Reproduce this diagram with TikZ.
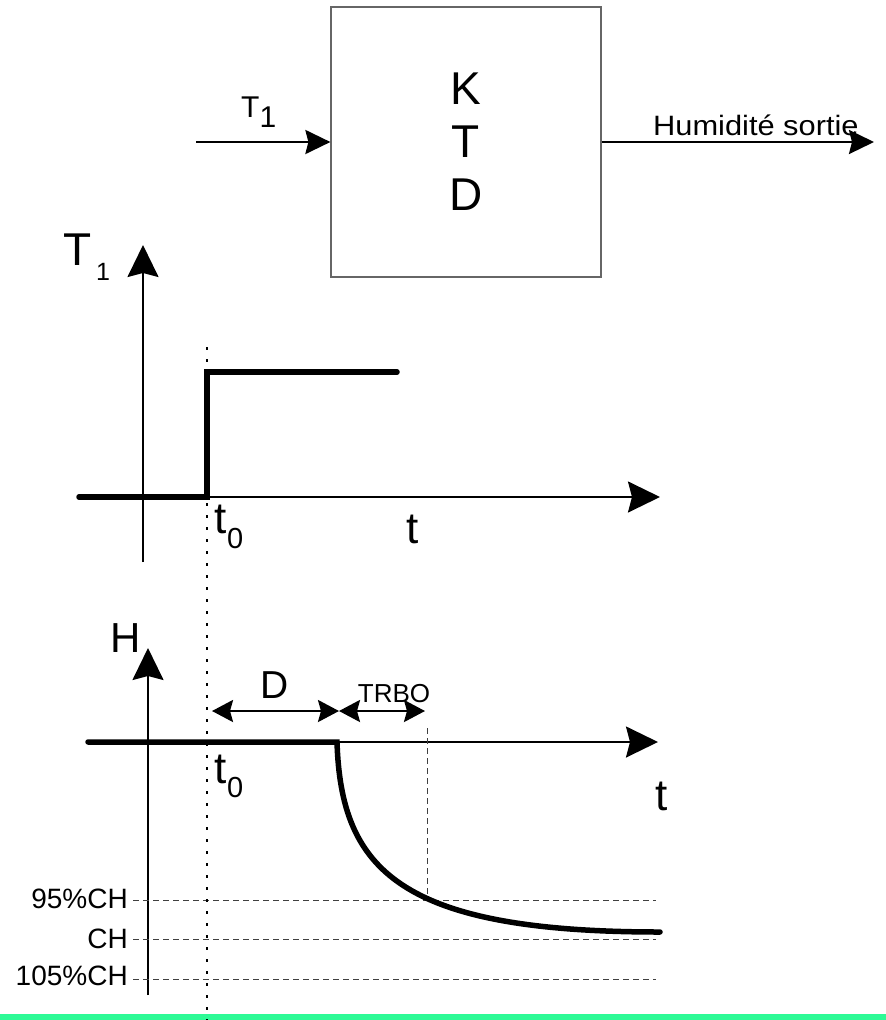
\documentclass[tikz,border=0pt]{standalone}
\usepackage{fontspec}
\setmainfont{Liberation Sans}
\newfontfamily\humfont[FakeStretch=1.1]{Liberation Sans}
\usetikzlibrary{arrows.meta}
\definecolor{mint}{RGB}{45,250,150}
\tikzset{
  axarrow/.style={line width=2pt,-{Stealth[length=32pt,width=31pt,inset=4pt]}},
  blkarrow/.style={line width=2.5pt,-{Stealth[length=25pt,width=24pt,inset=3pt]}},
  dblarrow/.style={line width=2.5pt,{Stealth[length=21pt,width=22pt,inset=3pt]}-{Stealth[length=21pt,width=22pt,inset=3pt]}},
  signal/.style={line width=5.5pt,line cap=round,line join=miter},
  guide/.style={line width=1pt,black!75,dash pattern=on 6pt off 4pt},
  tzero/.style={line width=2pt,dash pattern=on 3pt off 9pt},
  lbl/.style={inner sep=0pt}
}
\begin{document}
\begin{tikzpicture}[x=1pt,y=-1pt]
\useasboundingbox (0,0) rectangle (886,1020);
% bottom line
\draw[mint,line width=6pt] (0,1017) -- (886,1017);
% block
\node[draw=black!60,line width=1.2pt,minimum width=270pt,minimum height=270pt,align=center,inner sep=0pt,font=\fontsize{46pt}{53pt}\selectfont] (box) at (466,142) {K\\T\\D};
\coordinate (in) at (196,142);
\coordinate (out) at (874,142);
\draw[blkarrow] (in) -- (box.west);
\draw[blkarrow] (box.east) -- (out);
\node[lbl,anchor=base west,font=\fontsize{30pt}{30pt}\selectfont] (inlbl) at (241,117) {T\raisebox{-10pt}{1}};
\node[lbl,anchor=base west,font=\humfont\fontsize{28pt}{28pt}\selectfont] (outlbl) at (653,135) {Humidité sortie};
% T1 graph
\coordinate (ay0) at (143,562);
\coordinate (ay1) at (143,245);
\coordinate (ax0) at (80,497);
\coordinate (ax1) at (660,497);
\draw[axarrow] (ay0) -- (ay1);
\draw[axarrow] (ax0) -- (ax1);
\node[lbl,anchor=base west,font=\fontsize{46pt}{46pt}\selectfont] (T1a) at (63,265) {T};
\node[lbl,anchor=base west,font=\fontsize{25pt}{25pt}\selectfont] (T1b) at (96,280) {1};
\draw[signal] (79,497) -- (207,497) -- (207,372) -- (397,372);
\node[lbl,anchor=base west,font=\fontsize{44pt}{44pt}\selectfont] (t0a) at (214,533) {t};
\node[lbl,anchor=base west,font=\fontsize{29pt}{29pt}\selectfont] (t0b) at (227,548) {0};
\node[lbl,anchor=base west,font=\fontsize{44pt}{44pt}\selectfont] (ta) at (406,543) {t};
% H graph
\coordinate (hy0) at (148,995);
\coordinate (hy1) at (148,648);
\coordinate (hx0) at (88,742);
\coordinate (hx1) at (658,742);
\draw[axarrow] (hy0) -- (hy1);
\draw[axarrow] (hx0) -- (hx1);
\node[lbl,anchor=base west,font=\fontsize{42pt}{42pt}\selectfont] (Hl) at (110,652) {H};
\draw[guide] (427,728) -- (427,900);
\draw[guide] (133,900) -- (656,900);
\draw[guide] (133,939) -- (656,939);
\draw[guide] (133,979) -- (656,979);
\node[lbl,anchor=east,font=\fontsize{28pt}{28pt}\selectfont] (l95) at (128,899) {95\%CH};
\node[lbl,anchor=east,font=\fontsize{28pt}{28pt}\selectfont] (lch) at (128,939) {CH};
\node[lbl,anchor=east,font=\fontsize{28pt}{28pt}\selectfont] (l105) at (128,976) {105\%CH};
\draw[signal] (88,742) -- (337,742) .. controls (341,870) and (400,932) .. (660,932);
\coordinate (dA) at (212,711);
\coordinate (dB) at (339,711);
\coordinate (dC) at (425,711);
\draw[dblarrow] (dA) -- (dB);
\draw[dblarrow] (dB) -- (dC);
\node[lbl,anchor=base,font=\fontsize{39pt}{39pt}\selectfont] (Dl) at (275,698) {D};
\node[lbl,anchor=base,font=\fontsize{26pt}{26pt}\selectfont] (TRBO) at (394,702) {TRBO};
\node[lbl,anchor=base west,font=\fontsize{44pt}{44pt}\selectfont] (t0c) at (214,783) {t};
\node[lbl,anchor=base west,font=\fontsize{29pt}{29pt}\selectfont] (t0d) at (227,797) {0};
\node[lbl,anchor=base west,font=\fontsize{44pt}{44pt}\selectfont] (tb) at (655,810) {t};
% dotted t0 line
\coordinate (d0) at (207,347);
\coordinate (d1) at (207,1020);
\draw[tzero] (d0) -- (d1);
\end{tikzpicture}
\end{document}
